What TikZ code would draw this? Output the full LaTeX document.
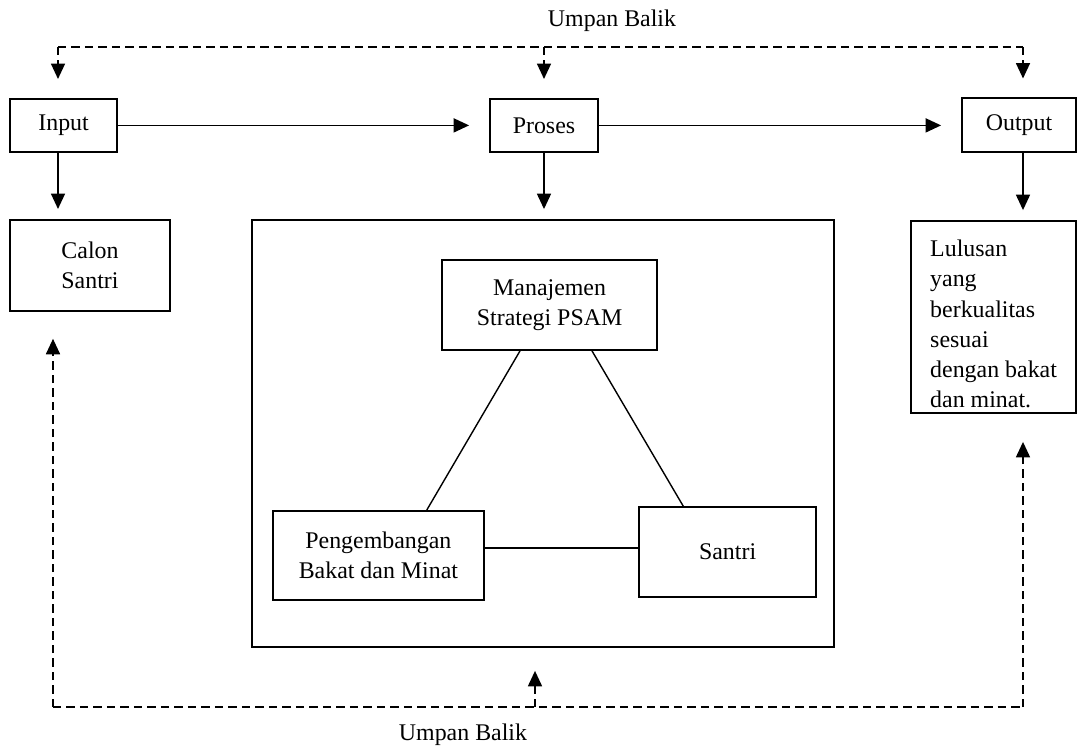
\documentclass[tikz,border=0pt]{standalone}
\usepackage{fontspec}
\setmainfont{Liberation Serif}
\usetikzlibrary{arrows.meta}

\begin{document}
\begin{tikzpicture}[font=\fontsize{17}{21}\selectfont,
    main/.style = {draw, rectangle, line width=1.3pt, inner sep=0pt, align=center},
    arr/.style = {line width=1.1pt, -{Triangle[width=10pt,length=11pt]}},
    fb/.style = {line width=1.2pt, dash pattern=on 6pt off 3.6pt},
    tri/.style = {line width=1pt}]

    \useasboundingbox (0,0) rectangle (26.925,18.725);

    \node[main, minimum width=2.675cm, minimum height=1.325cm] (input) at (1.59, 15.59) {Input};
    \node[main, minimum width=2.7cm, minimum height=1.325cm] (proses) at (13.6, 15.59) {Proses};
    \node[main, minimum width=2.85cm, minimum height=1.35cm] (output) at (25.475, 15.59) {Output};

    \node[main, minimum width=4cm, minimum height=2.275cm] (calon) at (2.25, 12.09) {Calon\\Santri};
    \node[main, minimum width=14.55cm, minimum height=10.675cm] (wadah) at (13.575, 7.888) {};
    \node[main, minimum width=4.125cm, minimum height=4.8cm, align=left,
        font=\fontsize{17}{21.5}\selectfont] (lulusan) at (24.84, 10.8)
        {\rule{0pt}{22pt}Lulusan\\yang\\berkualitas\\sesuai\\dengan bakat\\dan minat.};

    \node[main, minimum width=5.375cm, minimum height=2.25cm] (manajemen) at (13.74, 11.1) {Manajemen\\Strategi PSAM};
    \node[main, minimum width=5.275cm, minimum height=2.225cm] (bakat) at (9.46, 4.84) {Pengembangan\\Bakat dan Minat};
    \node[main, minimum width=4.425cm, minimum height=2.25cm] (santri) at (18.19, 4.925) {Santri};

    % umpan balik atas
    \coordinate (tl) at (1.45, 17.55);
    \coordinate (tr) at (25.575, 17.55);
    \node (ubatas) at (15.3, 18.2) {Umpan Balik};
    \draw[fb] (tl) -- (tr);
    \draw[fb, arr, shorten >=0.475cm] (tl) -- (tl |- input.north);
    \draw[fb, arr, shorten >=0.475cm] (proses.north |- tl) -- (proses.north);
    \draw[fb, arr, shorten >=0.475cm] (tr) -- (tr |- output.north);

    \draw[arr, shorten >=0.5cm] (input) -- (proses);
    \draw[arr, shorten >=0.5cm] (proses) -- (output);

    \draw[arr, shorten >=0.25cm] (input.south -| tl) -- (calon.north -| tl);
    \draw[arr, shorten >=0.25cm] (proses) -- (proses |- wadah.north);
    \draw[arr, shorten >=0.25cm] (output.south -| tr) -- (lulusan.north -| tr);

    \draw[tri] ([xshift=-0.74cm]manajemen.south) -- ([xshift=1.21cm]bakat.north);
    \draw[tri] ([xshift=1.06cm]manajemen.south) -- ([xshift=-1.11cm]santri.north);
    \draw[tri] ([yshift=0.19cm]bakat.east) -- ([yshift=0.19cm]bakat.east -| santri.west);

    % umpan balik bawah
    \coordinate (bl) at (1.325, 1.05);
    \coordinate (br) at (25.575, 1.05);
    \coordinate (bm) at (13.375, 1.05);
    \node (ubbawah) at (11.575, 0.35) {Umpan Balik};
    \draw[fb] (bl) -- (br);
    \draw[fb, arr, shorten >=0.675cm] (bl) -- (bl |- calon.south);
    \draw[fb, arr, shorten >=0.575cm] (bm) -- (bm |- wadah.south);
    \draw[fb, arr, shorten >=0.7cm] (br) -- (br |- lulusan.south);

\end{tikzpicture}
\end{document}
